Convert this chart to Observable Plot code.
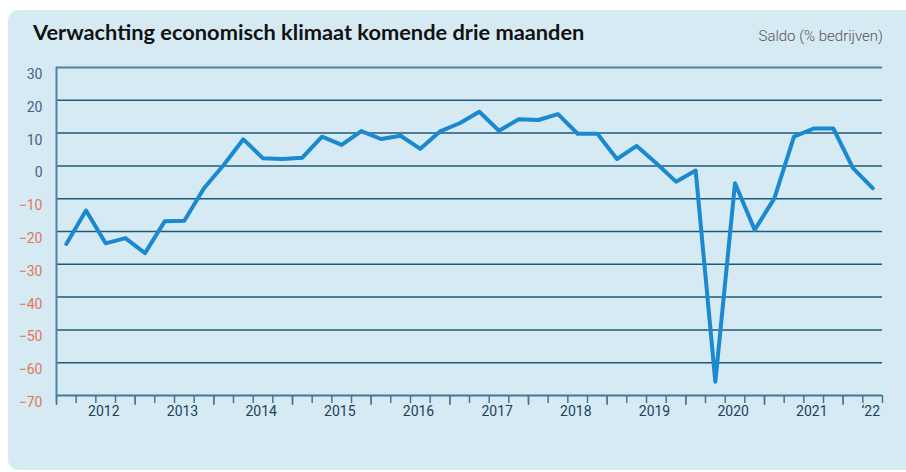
<!DOCTYPE html>
<html>
<head>
<meta charset="utf-8">
<script src="https://cdn.jsdelivr.net/npm/d3@7"></script>
<script src="https://cdn.jsdelivr.net/npm/@observablehq/plot@0.6"></script>
<style>
  html, body { margin: 0; padding: 0; background: #ffffff; overflow: hidden; }
  #wrap { position: relative; width: 906px; height: 472px; }
  #panel { position: absolute; left: 8px; top: 10px; width: 920px; height: 460px; border-radius: 10px; background: #d5eaf3; }
  #title { position: absolute; left: 33px; top: 18px; font-family: "Lato", sans-serif; font-weight: 700; font-size: 21.8px; color: #111; white-space: nowrap; }
  #unit { position: absolute; right: 23px; top: 27px; font-family: "Roboto", sans-serif; font-weight: 300; font-size: 15px; color: #555; white-space: nowrap; }
  #chart { position: absolute; left: 0; top: 55px; }
  #chart svg { background: transparent; overflow: visible; }
</style>
</head>
<body>
<div id="wrap">
  <div id="panel"></div>
  <div id="title">Verwachting economisch klimaat komende drie maanden</div>
  <div id="unit">Saldo (% bedrijven)</div>
  <div id="chart"></div>
</div>
<script>
// Quarterly saldo, 2012 Q1 – 2022 Q2
const values = [
  -23.8, -13.6, -23.6, -22.0,
  -26.6, -16.9, -16.7, -6.8,
  0.3, 8.1, 2.3, 2.1,
  2.5, 8.9, 6.4, 10.6,
  8.2, 9.2, 5.2, 10.5,
  13.0, 16.5, 10.7, 14.2,
  14.0, 15.8, 9.8, 9.8,
  2.1, 6.1, 0.8, -4.8,
  -1.4, -65.8, -5.3, -19.5,
  -9.9, 8.9, 11.4, 11.4,
  -0.7, -6.8
];
const yearLabels = ["2012","2013","2014","2015","2016","2017","2018","2019","2020","2021","\u201822"];
const yTicksPos = [0, 10, 20, 30];
const yTicksNeg = [-10, -20, -30, -40, -50, -60, -70];
const gridValues = [-60, -50, -40, -30, -20, -10, 0, 10, 20];

const data = values.map((v, i) => ({q: i + 0.5, v}));
const nQ = values.length;
const labels = yearLabels.map((l, k) => ({label: l, q: Math.min(4 * k + 2, nQ - 1)}));

const blue = "#3f6485", orange = "#e0785a";
const plot = Plot.plot({
  width: 906,
  height: 417,
  marginTop: 12,
  marginBottom: 77,
  marginLeft: 56,
  marginRight: 24,
  style: {fontFamily: "Roboto, sans-serif", fontSize: "14px", background: "transparent"},
  x: {domain: [0, nQ], axis: null, label: null},
  y: {domain: [-70, 30], axis: null, label: null},
  marks: [
    Plot.ruleY(gridValues, {stroke: "#1f5878", strokeWidth: 1.5}),
    Plot.ruleY([30], {stroke: "#4886a1", strokeWidth: 2}),
    Plot.axisX({ticks: d3.range(0, nQ + 1), tickSize: 8, tickFormat: () => "", label: null, stroke: "#3f7a95", strokeWidth: 1.5}),
    Plot.axisX({ticks: d3.range(0, nQ + 1, 4), tickSize: 10, tickFormat: () => "", label: null, stroke: "#3f7a95", strokeWidth: 1.5}),
    Plot.ruleY([-70], {stroke: "#3f7a95", strokeWidth: 2}),
    Plot.ruleX([0], {y1: -70, y2: 30, stroke: "#4886a1", strokeWidth: 2}),
    Plot.axisY({ticks: yTicksPos, tickSize: 0, tickPadding: 14, label: null, fill: blue, dy: 7}),
    Plot.axisY({ticks: yTicksNeg, tickSize: 0, tickPadding: 14, label: null, fill: orange, dy: 7}),
    Plot.text(labels, {x: "q", text: "label", frameAnchor: "bottom", dy: 20, dx: 8, fill: "#1d3f60", fontSize: 14}),
    Plot.line(data, {x: "q", y: "v", stroke: "#1b89d0", strokeWidth: 4, strokeLinejoin: "round", strokeLinecap: "round"})
  ]
});
document.getElementById("chart").appendChild(plot);
</script>
</body>
</html>
